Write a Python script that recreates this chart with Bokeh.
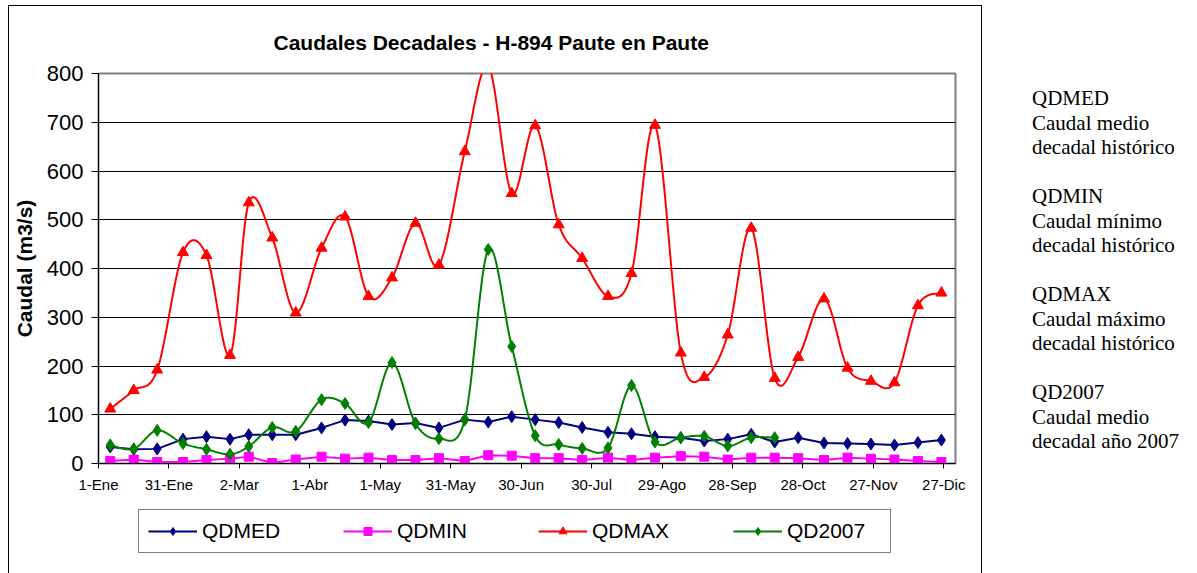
import numpy as np
from bokeh.plotting import figure
from bokeh.models import Range1d, FixedTicker, Legend, LegendItem, Div, Spacer
from bokeh.layouts import row, column
from bokeh.embed import file_html
from bokeh.resources import INLINE

# ---------------- data ----------------
title_text = "Caudales Decadales - H-894 Paute en Paute"
tick_days = [0, 30, 60, 90, 120, 150, 180, 210, 240, 270, 300, 330, 360]
tick_labels = ["1-Ene", "31-Ene", "2-Mar", "1-Abr", "1-May", "31-May", "30-Jun",
               "30-Jul", "29-Ago", "28-Sep", "28-Oct", "27-Nov", "27-Dic"]
month_start = [0, 31, 59, 90, 120, 151, 181, 212, 243, 273, 304, 334]
decade_day = [6, 16, 26]

qdmed = [34, 29, 30, 50, 55, 50, 59, 59, 59, 73, 89, 87, 80, 83, 73, 90, 85, 96,
         90, 84, 74, 64, 61, 55, 53, 46, 50, 60, 44, 53, 42, 41, 40, 38, 43, 48]
qdmin = [5, 8, 3, 3, 7, 10, 14, 1, 8, 14, 10, 12, 7, 7, 11, 5, 17, 16,
         11, 11, 7, 12, 7, 12, 15, 14, 8, 12, 12, 11, 7, 12, 10, 8, 5, 3]
qdmax = [112, 150, 192, 433, 427, 222, 535, 463, 309, 442, 506, 343, 381, 493, 407, 640, 815, 554,
         693, 490, 421, 343, 390, 694, 227, 177, 264, 483, 175, 218, 338, 196, 169, 166, 324, 350]
qd2007 = [38, 30, 68, 41, 29, 19, 35, 74, 66, 131, 123, 84, 207, 82, 51, 90, 439, 240,
          57, 39, 31, 32, 160, 44, 53, 56, 36, 53, 53]

series_names = ["QDMED", "QDMIN", "QDMAX", "QD2007"]
side_notes = [("QDMED", "Caudal medio", "decadal histórico"),
              ("QDMIN", "Caudal mínimo", "decadal histórico"),
              ("QDMAX", "Caudal máximo", "decadal histórico"),
              ("QD2007", "Caudal medio", "decadal año 2007")]

x_days = [ms + d - 1 for ms in month_start for d in decade_day]


def smooth(xs, ys, n=24):
    """Excel-like smoothed line: cubic Bezier through the points."""
    P = np.column_stack([np.asarray(xs, float), np.asarray(ys, float)])
    out = [P[0]]
    t = np.linspace(0, 1, n)[1:, None]
    for i in range(len(P) - 1):
        p0 = P[i - 1] if i > 0 else P[i]
        p1, p2 = P[i], P[i + 1]
        p3 = P[i + 2] if i + 2 < len(P) else P[i + 1]
        c1 = p1 + (p2 - p0) / 6.0
        c2 = p2 - (p3 - p1) / 6.0
        seg = ((1 - t) ** 3) * p1 + 3 * ((1 - t) ** 2) * t * c1 + 3 * (1 - t) * t * t * c2 + t ** 3 * p2
        out.extend(seg)
    out = np.array(out)
    return out[:, 0], out[:, 1]


FONT = "Liberation Sans"
BORDER = "1px solid black"

# ---------------- main chart ----------------
p = figure(width=974, height=491, output_backend="svg", toolbar_location=None,
           x_range=Range1d(0, 365), y_range=Range1d(0, 800),
           min_border_left=88, min_border_right=28, min_border_top=67, min_border_bottom=34,
           background_fill_color="white", border_fill_color="white")
p.styles = {"border-top": BORDER, "border-left": BORDER, "border-right": BORDER}

p.title.text = title_text
p.title.text_font = FONT
p.title.text_font_size = "21px"
p.title.text_font_style = "bold"
p.title.text_color = "black"
p.title.align = "left"
p.title.offset = 175
p.title.standoff = 40

p.outline_line_color = "#808080"
p.outline_line_width = 2

p.xaxis.ticker = FixedTicker(ticks=tick_days)
p.xaxis.major_label_overrides = {d: l for d, l in zip(tick_days, tick_labels)}
p.xaxis.major_label_text_font = FONT
p.xaxis.major_label_text_font_size = "15px"
p.xaxis.major_label_text_color = "black"
p.xaxis.major_tick_in = 0
p.xaxis.major_tick_out = 5
p.xaxis.minor_tick_line_color = None
p.xaxis.major_label_standoff = 7
p.xaxis.axis_line_color = "black"
p.xaxis.major_tick_line_color = "black"

p.yaxis.ticker = FixedTicker(ticks=list(range(0, 801, 100)))
p.yaxis.major_label_text_font = FONT
p.yaxis.major_label_text_font_size = "22px"
p.yaxis.major_label_text_color = "black"
p.yaxis.major_tick_in = 0
p.yaxis.major_tick_out = 7
p.yaxis.minor_tick_line_color = None
p.yaxis.major_label_standoff = 8
p.yaxis.axis_line_color = "black"
p.yaxis.major_tick_line_color = "black"
p.yaxis.axis_label = "Caudal (m3/s)"
p.yaxis.axis_label_text_font = FONT
p.yaxis.axis_label_text_font_size = "21px"
p.yaxis.axis_label_text_font_style = "bold"
p.yaxis.axis_label_text_color = "black"
p.yaxis.axis_label_standoff = 8

p.xgrid.grid_line_color = None
p.ygrid.grid_line_color = "black"
p.ygrid.grid_line_width = 1

styles = [dict(color="#000080", marker="diamond", size=12),
          dict(color="#FF00FF", marker="square", size=9),
          dict(color="#FF0000", marker="triangle", size=11),
          dict(color="#008000", marker="diamond", size=12)]

xs = x_days
x7 = x_days[:len(qd2007)]
p.line(xs, qdmed, line_color=styles[0]["color"], line_width=2)
p.scatter(xs, qdmed, marker="diamond", size=12, fill_color=styles[0]["color"], line_color=styles[0]["color"])
p.line(xs, qdmin, line_color=styles[1]["color"], line_width=2)
p.scatter(xs, qdmin, marker="square", size=9, fill_color=styles[1]["color"], line_color=styles[1]["color"])
sx, sy = smooth(xs, qdmax)
p.line(sx, sy, line_color=styles[2]["color"], line_width=2)
p.scatter(xs, qdmax, marker="triangle", size=11, fill_color=styles[2]["color"], line_color=styles[2]["color"])
sx, sy = smooth(x7, qd2007)
p.line(sx, sy, line_color=styles[3]["color"], line_width=2)
p.scatter(x7, qd2007, marker="diamond", size=12, fill_color=styles[3]["color"], line_color=styles[3]["color"])

# ---------------- legend strip (part of the same chart box) ----------------
pl = figure(width=974, height=78, output_backend="svg", toolbar_location=None,
            x_range=Range1d(0, 1), y_range=Range1d(0, 1),
            x_axis_type=None, y_axis_type=None,
            min_border_left=0, min_border_right=0, min_border_top=0, min_border_bottom=0,
            background_fill_color="white", border_fill_color="white")
pl.outline_line_color = None
pl.xgrid.grid_line_color = None
pl.ygrid.grid_line_color = None
pl.styles = {"border-left": BORDER, "border-right": BORDER, "border-bottom": BORDER}

items = []
for name, st in zip(series_names, styles):
    # legend-only renderers, kept outside the visible range of this strip
    lr = pl.line(x=[-5, -4], y=[-5, -4], line_color=st["color"], line_width=2)
    mr = pl.scatter(x=[-5], y=[-5], marker=st["marker"], size=st["size"] - 1,
                    fill_color=st["color"], line_color=st["color"])
    items.append(LegendItem(label=name, renderers=[lr, mr]))

legend = Legend(items=items, orientation="horizontal", location=(40, 21),
                border_line_color="black", border_line_width=1,
                background_fill_color="white", background_fill_alpha=1,
                label_text_font=FONT, label_text_font_size="21px", label_text_color="black",
                glyph_width=49, glyph_height=20, label_standoff=5,
                label_width=94, spacing=47, padding=9, margin=0)
pl.add_layout(legend, "center")

# ---------------- side notes ----------------
lines = []
for k, (a, b, c) in enumerate(side_notes):
    if k:
        lines.append("&nbsp;")
    lines.extend([a, b, c])
div = Div(text="<br>".join(lines), width=206, height=560,
          styles={"font-family": "'Liberation Serif', 'Times New Roman', serif",
                  "font-size": "21px", "line-height": "24.5px",
                  "padding-left": "45px", "padding-top": "76px",
                  "color": "black", "white-space": "nowrap"})

layout = column(Spacer(height=5), row(Spacer(width=8), column(p, pl), div))
open("out.html", "w").write(file_html(layout, INLINE))
